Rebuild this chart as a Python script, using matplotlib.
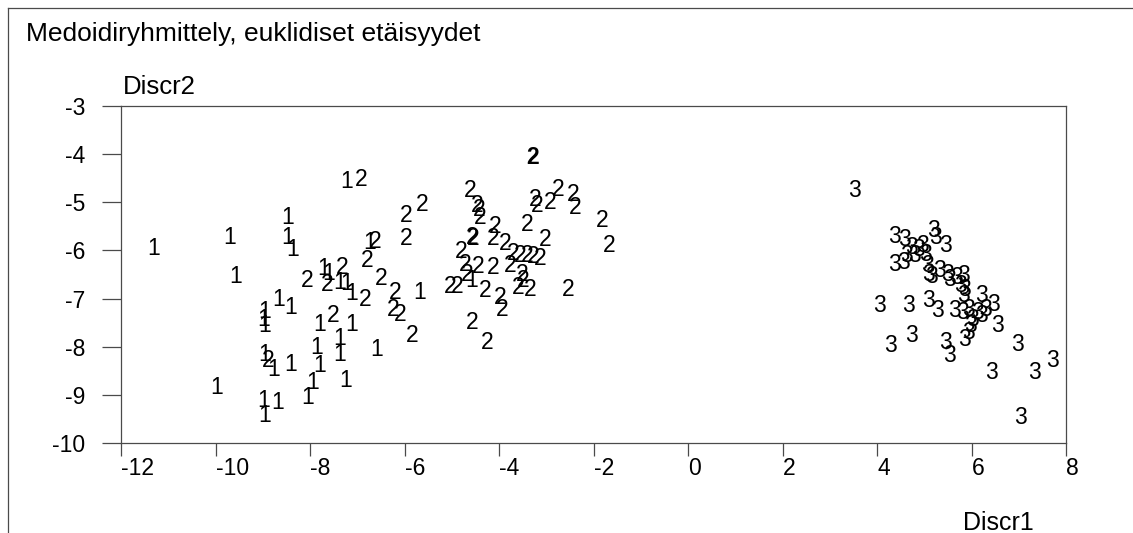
import matplotlib.pyplot as plt
from matplotlib.lines import Line2D

plt.rcParams['font.family'] = ['Liberation Sans', 'DejaVu Sans']

# discriminant scores, one pair of lists per medoid cluster
c1_x = [-11.32, -9.71, -9.57, -8.47, -8.47, -8.36, -7.22, -6.73, -7.72, -7.60,
        -7.37, -7.22, -7.11, -5.67, -4.57, -8.66, -8.42, -8.97, -8.99, -8.95,
        -7.79, -7.11, -7.37, -7.37, -7.85, -6.58, -8.95, -8.78, -8.40, -7.79,
        -7.94, -7.24, -9.97, -8.99, -8.68, -8.97, -8.04]
c1_y = [-5.91, -5.68, -6.49, -5.26, -5.68, -5.93, -4.52, -5.78, -6.32, -6.43,
        -6.61, -6.64, -6.84, -6.82, -6.57, -6.97, -7.13, -7.22, -7.38, -7.51,
        -7.49, -7.49, -7.78, -8.11, -7.96, -8.01, -8.11, -8.42, -8.32, -8.34,
        -8.69, -8.65, -8.80, -9.07, -9.11, -9.38, -9.00]

c2_x = [-8.89, -6.92, -6.62, -5.97, -5.63, -5.97, -6.79, -7.32, -8.06, -7.64,
        -6.50, -6.84, -6.20, -6.24, -6.10, -5.84, -7.51, -5.04, -4.89,
        -4.61, -4.47, -4.42, -4.40, -4.08, -3.41, -4.57, -4.55, -3.24, -3.20,
        -2.92, -2.75, -2.43, -2.39, -1.82, -1.67, -3.03, -4.13, -3.87, -4.80,
        -4.72, -4.44, -4.13, -3.77, -3.70, -3.56, -3.41, -3.28, -3.13, -3.51,
        -3.49, -4.68, -4.30, -3.98, -3.94, -3.60, -3.34, -2.54, -4.57, -4.25]
c2_y = [-8.23, -4.47, -5.76, -5.22, -4.99, -5.70, -6.16, -6.30, -6.57, -6.66,
        -6.53, -6.97, -6.82, -7.18, -7.28, -7.72, -7.30, -6.70, -6.70,
        -4.70, -5.01, -5.10, -5.26, -5.45, -5.41, -5.68, -5.70, -4.89, -5.01,
        -4.95, -4.68, -4.79, -5.06, -5.33, -5.85, -5.72, -5.70, -5.80, -5.97,
        -6.24, -6.28, -6.30, -6.26, -6.01, -6.05, -6.05, -6.07, -6.12, -6.45,
        -6.57, -6.45, -6.78, -6.93, -7.18, -6.72, -6.76, -6.76, -7.45, -7.86]

c3_x = [3.53, 4.38, 4.59, 5.19, 5.23, 5.44, 4.74, 4.87, 4.97, 5.02,
        4.80, 4.63, 4.38, 4.55, 5.06, 5.08, 5.16, 5.33, 5.50, 5.54,
        5.69, 5.82, 5.76, 5.86, 5.82, 6.22, 6.46, 4.06, 4.66, 5.08,
        5.27, 5.65, 5.80, 5.93, 6.01, 6.12, 6.22, 6.29, 5.97, 5.93,
        6.54, 5.86, 4.74, 4.28, 5.44, 5.54, 6.98, 6.43, 7.34, 7.72, 7.03]
c3_y = [-4.70, -5.66, -5.72, -5.53, -5.68, -5.85, -5.89, -5.93, -5.85, -6.03,
        -6.05, -6.05, -6.24, -6.20, -6.26, -6.45, -6.49, -6.37, -6.45, -6.55,
        -6.51, -6.47, -6.68, -6.76, -6.88, -6.88, -7.07, -7.09, -7.09, -6.99,
        -7.20, -7.20, -7.24, -7.18, -7.38, -7.24, -7.30, -7.18, -7.51, -7.65,
        -7.51, -7.80, -7.72, -7.92, -7.86, -8.13, -7.90, -8.48, -8.48, -8.23, -9.42]

# highlighted observation of cluster 2
hi_x, hi_y = -3.30, -4.02

x_ticks = [-12, -10, -8, -6, -4, -2, 0, 2, 4, 6, 8]
y_ticks = [-10, -9, -8, -7, -6, -5, -4, -3]

FS = 16.5
GRAY = '#4a4a4a'

W, H = 1133, 533
fig = plt.figure(figsize=(W / 100, H / 100), dpi=100)
ax = fig.add_axes([121 / W, 90 / H, 945 / W, 337 / H])

for xs, ys, lab in [(c1_x, c1_y, '1'), (c2_x, c2_y, '2'), (c3_x, c3_y, '3')]:
    for x, y in zip(xs, ys):
        ax.text(x, y, lab, ha='center', va='center_baseline', fontsize=FS)
ax.text(hi_x, hi_y, '2', ha='center', va='center_baseline', fontsize=FS,
        fontweight='bold')

ax.set_xlim(-12, 8)
ax.set_ylim(-10, -3)
ax.set_xticks(x_ticks)
ax.set_yticks(y_ticks)
ax.set_xticklabels([str(t) for t in x_ticks], ha='left')
ax.set_yticklabels([str(t) for t in y_ticks])
ax.tick_params(axis='both', direction='out', length=13.5, width=0.9,
               color=GRAY, labelsize=FS)
ax.tick_params(axis='y', pad=12)
ax.tick_params(axis='x', length=9, pad=1)
for sp in ax.spines.values():
    sp.set_color(GRAY)
    sp.set_linewidth(0.9)

fig.text(26 / W, 1 - 32 / H, 'Medoidiryhmittely, euklidiset etäisyydet',
         ha='left', va='center_baseline', fontsize=19)
fig.text(123 / W, 1 - 84 / H, 'Discr2', ha='left', va='center_baseline',
         fontsize=18.5)
fig.text(963 / W, 1 - 520 / H, 'Discr1', ha='left', va='center_baseline',
         fontsize=18)

# outer frame: top and left edge only, the rest runs off the canvas
fig.add_artist(Line2D([8 / W, 1], [1 - 8 / H, 1 - 8 / H], color=GRAY,
                      linewidth=0.9, transform=fig.transFigure))
fig.add_artist(Line2D([8 / W, 8 / W], [1 - 8 / H, 0], color=GRAY,
                      linewidth=0.9, transform=fig.transFigure))

fig.savefig('out.png', dpi=100)
